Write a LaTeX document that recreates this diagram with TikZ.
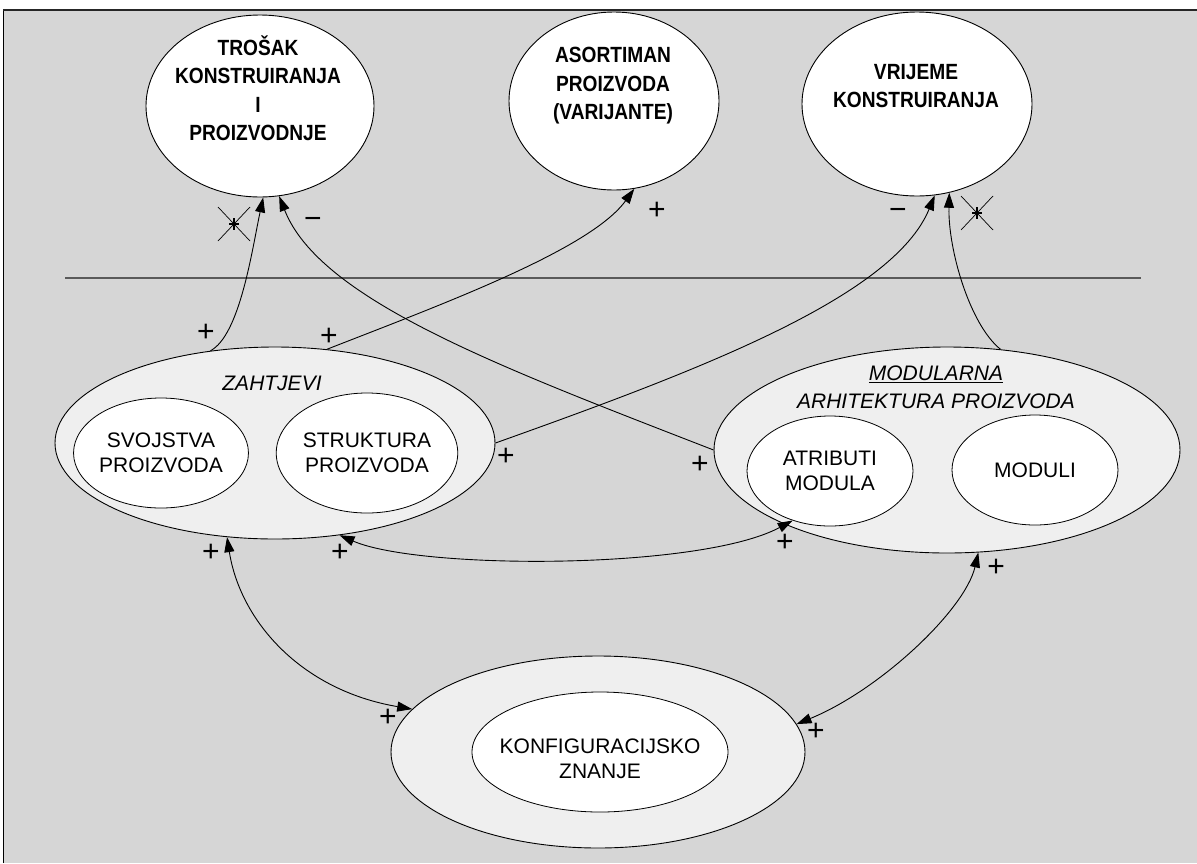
\documentclass[tikz,border=0pt]{standalone}
\usepackage{fontspec}
\setmainfont{Liberation Sans}
\newfontfamily\narrowbold[FakeStretch=0.87]{Liberation Sans}
\usetikzlibrary{shapes.geometric,arrows.meta}
\definecolor{bggray}{HTML}{D6D6D6}
\definecolor{outergray}{HTML}{EFEFEF}
\definecolor{rulegray}{HTML}{5A5A5A}
\begin{document}
\begin{tikzpicture}[x=1pt,y=-1pt,
  outerell/.style={ellipse, draw=black, line width=0.9pt, fill=outergray, inner sep=0pt},
  innerell/.style={ellipse, draw=black, line width=0.8pt, fill=white, inner sep=0pt, align=center,
                   font=\fontsize{21}{25}\selectfont},
  topell/.style={ellipse, draw=black, line width=0.9pt, fill=white, inner sep=0pt},
  toptext/.style={align=center, inner sep=0pt, font=\narrowbold\bfseries\fontsize{22}{28.5}\selectfont},
  plaintext/.style={align=center, inner sep=0pt, font=\fontsize{21}{25}\selectfont},
  ittext/.style={align=center, inner sep=0pt, font=\itshape\fontsize{21}{28}\selectfont},
  sign/.style={inner sep=0pt, font=\fontsize{30}{30}\selectfont},
  conn/.style={line width=0.9pt, -{Triangle[length=15pt,width=10pt]}},
  dconn/.style={line width=0.9pt, {Triangle[length=15pt,width=10pt]}-{Triangle[length=15pt,width=10pt]}},
  starmark/.style={line width=0.7pt}
]
\useasboundingbox (0,0) rectangle (1197,863);
% background panel
\fill[bggray] (3,10) rectangle (1197,863);
\draw[line width=0.8pt, black] (3,863) -- (3,10);
\draw[line width=1.6pt, black!85] (3,10) -- (1197,10);
% separating rule
\coordinate (ruleL) at (65,278);
\coordinate (ruleR) at (1141,278);
\draw[line width=1.4pt, rulegray] (ruleL) -- (ruleR);

% top goal ellipses
\node[topell, minimum width=228pt, minimum height=182pt] (trosak) at (260,106) {};
\node[toptext] (trosakT) at (258,88) {TROŠAK\\KONSTRUIRANJA\\I\\PROIZVODNJE};
\node[topell, minimum width=210pt, minimum height=178pt] (asort) at (614,101) {};
\node[toptext] (asortT) at (613,86) {ASORTIMAN\\PROIZVODA\\(VARIJANTE)};
\node[topell, minimum width=230pt, minimum height=184pt] (vrij) at (917,104) {};
\node[toptext] (vrijT) at (916,86) {VRIJEME\\KONSTRUIRANJA};

% ZAHTJEVI
\node[outerell, minimum width=440pt, minimum height=192pt] (zah) at (275,443) {};
\node[ittext] (zahT) at (272,383) {ZAHTJEVI};
\node[innerell, minimum width=166pt, minimum height=110pt] (svoj) at (161,453) {SVOJSTVA\\PROIZVODA};
\node[innerell, minimum width=180pt, minimum height=120pt] (struk) at (367,453) {STRUKTURA\\PROIZVODA};

% MODULARNA ARHITEKTURA
\node[outerell, minimum width=466pt, minimum height=206pt] (mod) at (947,450) {};
\node[ittext] (modT) at (936,387) {\underline{MODULARNA}\\ARHITEKTURA PROIZVODA};
\node[innerell, minimum width=166pt, minimum height=110pt] (atrib) at (830,471) {ATRIBUTI\\MODULA};
\node[innerell, minimum width=166pt, minimum height=110pt] (moduli) at (1035,470) {MODULI};

% KONFIGURACIJSKO ZNANJE
\node[outerell, minimum width=414pt, minimum height=192pt] (konf) at (598,752) {};
\node[innerell, minimum width=256pt, minimum height=120pt] (konfin) at (600,752) {};
\node[plaintext] (konfT) at (600,759) {KONFIGURACIJSKO\\ZNANJE};

% connectors to goals
\draw[conn] (zah.125) .. controls (240,335) and (252,250) .. (trosak.-88);
\draw[conn] (zah.61.5) .. controls (440,305) and (590,250) .. (asort.-77);
\draw[conn] (mod.180) .. controls (500,367) and (320,300) .. (trosak.-78.5);
\draw[conn] (zah.0) .. controls (700,370) and (893,297) .. (vrij.-79);
\draw[conn] (mod.62.5) .. controls (970,325) and (948,250) .. (vrij.-70.5);

% mutual connectors
\draw[dconn] (zah.-55.3) .. controls (420,570) and (700,570) .. (atrib.233);
\draw[dconn] (zah.243.7) .. controls (240,620) and (300,690) .. (konf.167);
\draw[dconn] (mod.-73) .. controls (965,610) and (880,690) .. (konf.8.6);

% signs
\node[sign] (p1) at (206,333) {+};
\node[sign] (p2) at (329,337) {+};
\node[sign] (p3) at (657,211) {+};
\node[sign] (m1) at (313,223) {−};
\node[sign] (m2) at (898,214) {−};
\node[sign] (p4) at (506,457) {+};
\node[sign] (p5) at (700,465) {+};
\node[sign] (p6) at (211,553) {+};
\node[sign] (p7) at (340,553) {+};
\node[sign] (p8) at (785,543) {+};
\node[sign] (p9) at (996,568) {+};
\node[sign] (p10) at (388,718) {+};
\node[sign] (p11) at (816,732) {+};

% "no effect" star marks
\foreach \c in {(234,224),(977,213)} {
  \draw[starmark] \c ++(-16,-17) -- ++(32,34);
  \draw[starmark] \c ++(16,-17) -- ++(-32,34);
  \draw[line width=1.2pt] \c ++(0,-6) -- ++(0,12);
  \draw[line width=1.2pt] \c ++(-5,0) -- ++(10,0);
}
\end{tikzpicture}
\end{document}
